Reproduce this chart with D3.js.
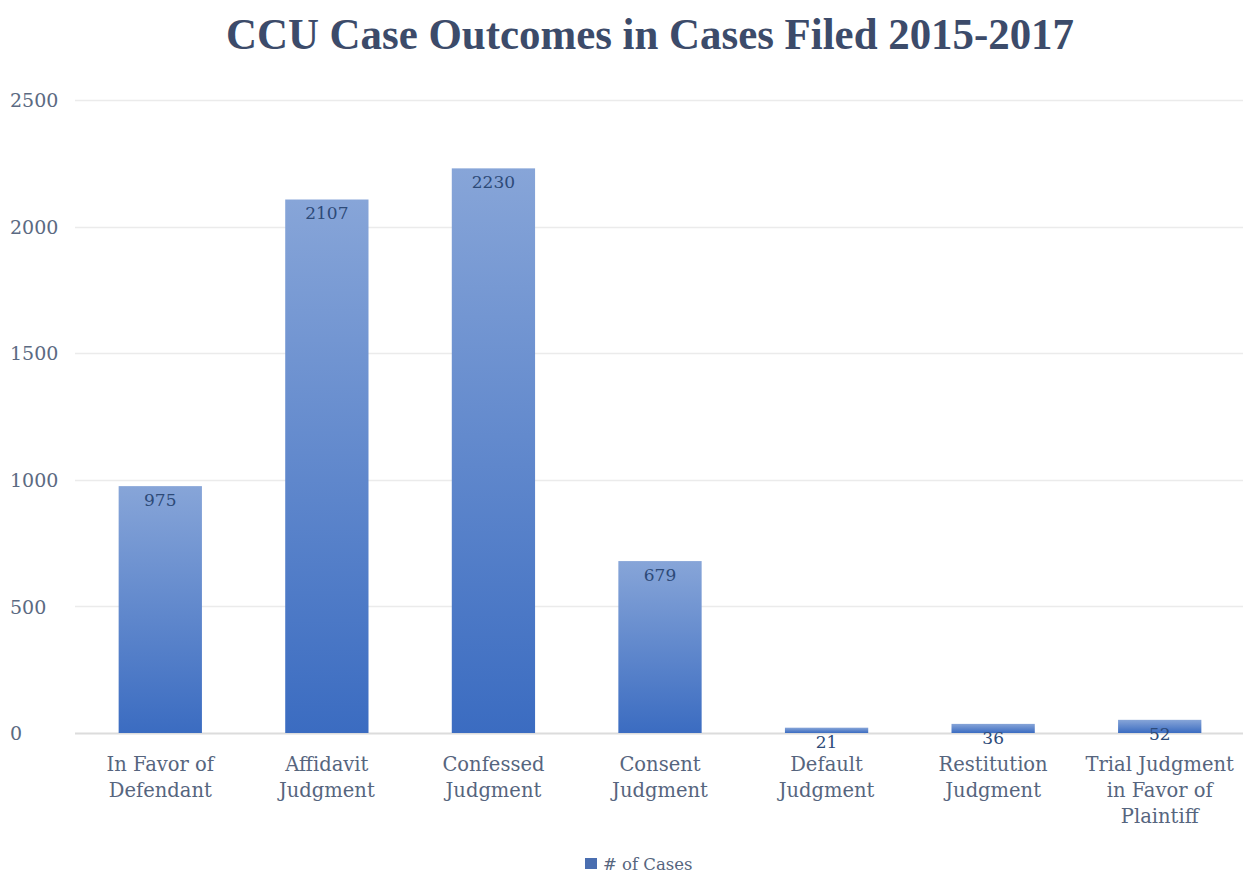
<!DOCTYPE html>
<html>
<head>
<meta charset="utf-8">
<script src="https://cdn.jsdelivr.net/npm/d3@7"></script>
<style>
  html, body { margin: 0; padding: 0; background: #fff; }
  svg { display: block; }
</style>
</head>
<body>
<svg id="chart" width="1254" height="894"></svg>
<script>
// Case outcome counts, cases filed 2015-2017
const categories = [
  ["In Favor of", "Defendant"],
  ["Affidavit", "Judgment"],
  ["Confessed", "Judgment"],
  ["Consent", "Judgment"],
  ["Default", "Judgment"],
  ["Restitution", "Judgment"],
  ["Trial Judgment", "in Favor of", "Plaintiff"]
];
const caseCounts = [975, 2107, 2230, 679, 21, 36, 52];
const yTicks = [0, 500, 1000, 1500, 2000, 2500];
const seriesName = "# of Cases";
const titleText = "CCU Case Outcomes in Cases Filed 2015-2017";

const svg = d3.select("#chart");
const serif = "'DejaVu Serif', 'Liberation Serif', serif";
const titleFont = "'Liberation Serif', 'DejaVu Serif', serif";

const margin = { left: 77, right: 11, top: 100, bottom: 161 };
const W = 1254, H = 894;

const x = d3.scaleBand()
  .domain(d3.range(categories.length))
  .range([margin.left, W - margin.right])
  .paddingInner(0.5)
  .paddingOuter(0.25);

const y = d3.scaleLinear()
  .domain([0, 2500])
  .range([H - margin.bottom, margin.top]);

// bar gradient: lighter at the top, deeper blue at the base
const defs = svg.append("defs");
const grad = defs.append("linearGradient")
  .attr("id", "barGrad").attr("x1", 0).attr("y1", 0).attr("x2", 0).attr("y2", 1);
grad.append("stop").attr("offset", "0%").attr("stop-color", "#87a5d8");
grad.append("stop").attr("offset", "100%").attr("stop-color", "#3b6cc1");

// title
svg.append("text")
  .attr("x", 650).attr("y", 49)
  .attr("text-anchor", "middle")
  .attr("font-family", titleFont)
  .attr("font-weight", "bold")
  .attr("font-size", 44)
  .attr("textLength", 848)
  .attr("lengthAdjust", "spacingAndGlyphs")
  .attr("fill", "#3c4b6a")
  .text(titleText);

// gridlines
const grid = svg.append("g");
grid.selectAll("line").data(yTicks).join("line")
  .attr("x1", 75).attr("x2", 1243)
  .attr("y1", d => Math.round(y(d)) + 0.5)
  .attr("y2", d => Math.round(y(d)) + 0.5)
  .attr("stroke", d => d === 0 ? "#dcdcdc" : "#ebebeb")
  .attr("stroke-width", d => d === 0 ? 2 : 1.5);

// y axis labels (left aligned)
const yAxis = d3.axisLeft(y).tickValues(yTicks).tickSize(0).tickFormat(d3.format("d"));
const yg = svg.append("g").call(yAxis);
yg.select(".domain").remove();
yg.selectAll("text")
  .attr("x", 10)
  .attr("dy", "0.35em")
  .attr("text-anchor", "start")
  .attr("font-family", serif)
  .attr("font-size", 19)
  .attr("fill", "#5b6a82");

// bars
svg.append("g").selectAll("rect").data(caseCounts).join("rect")
  .attr("x", (d, i) => x(i))
  .attr("y", d => y(d))
  .attr("width", x.bandwidth())
  .attr("height", d => y(0) - y(d))
  .attr("fill", "url(#barGrad)");

// value labels inside the bar top
svg.append("g").selectAll("text").data(caseCounts).join("text")
  .attr("x", (d, i) => x(i) + x.bandwidth() / 2)
  .attr("y", d => y(d) + 14)
  .attr("dy", "0.35em")
  .attr("text-anchor", "middle")
  .attr("font-family", serif)
  .attr("font-size", 17)
  .attr("fill", "#2d4a78")
  .text(d => d);

// category labels
const xg = svg.append("g");
categories.forEach((lines, i) => {
  const cx = x(i) + x.bandwidth() / 2;
  const t = xg.append("text")
    .attr("x", cx)
    .attr("y", 771)
    .attr("text-anchor", "middle")
    .attr("font-family", serif)
    .attr("font-size", 19.5)
    .attr("fill", "#56657e");
  lines.forEach((ln, k) => {
    t.append("tspan")
      .attr("x", cx)
      .attr("dy", k === 0 ? 0 : 26)
      .text(ln);
  });
});

// legend
const lg = svg.append("g").attr("transform", "translate(585,858)");
lg.append("rect").attr("width", 12).attr("height", 11).attr("fill", "#4a6eb0");
lg.append("text")
  .attr("x", 18).attr("y", 6).attr("dy", "0.35em")
  .attr("font-family", serif).attr("font-size", 16.5).attr("fill", "#56657e")
  .text(seriesName);
</script>
</body>
</html>
